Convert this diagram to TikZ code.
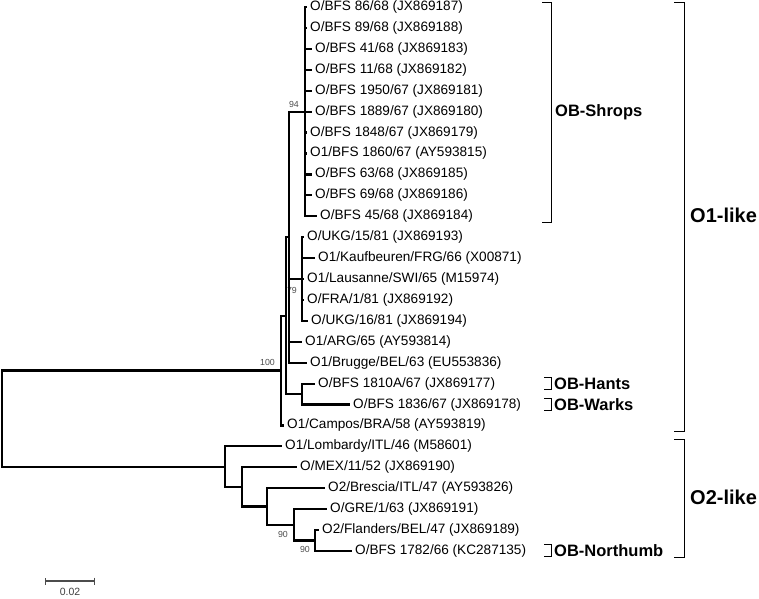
\documentclass[tikz,border=0pt]{standalone}
\usepackage{fontspec}
\setmainfont{Liberation Sans}
\usetikzlibrary{arrows.meta,positioning}
\tikzset{br/.style={line width=2.2pt},
  leaf/.style={inner sep=0pt, font=\fontsize{13.6}{15}\selectfont},
  boot/.style={inner sep=0pt, text=black!70, font=\fontsize{8.8}{9}\selectfont},
  brk/.style={line width=1pt},
  clade/.style={anchor=west, inner sep=0pt, font=\bfseries\fontsize{16.5}{18}\selectfont},
  grp/.style={anchor=west, inner sep=0pt, font=\bfseries\fontsize{20}{22}\selectfont},
  sbar/.style={{Bar[width=7pt]}-{Bar[width=7pt]}, line width=1.4pt, draw=black!70}}

\begin{document}
\begin{tikzpicture}[x=1pt, y=-1pt, node distance=3pt]
  \useasboundingbox (0,0) rectangle (759,598);
  % internal nodes
  \coordinate (root)  at (2,418.5);
  \coordinate (n100)  at (281,370.5);
  \coordinate (na)    at (286,315.6);
  \coordinate (nb)    at (289,237.1);
  \coordinate (n94)   at (305,111.6);
  \coordinate (n79)   at (302,279.0);
  \coordinate (hw)    at (302,394.0);
  \coordinate (no2)   at (225,466.6);
  \coordinate (nmex)  at (242,486.9);
  \coordinate (nbres) at (267,506.5);
  \coordinate (ngre)  at (294,524.8);
  \coordinate (nfl)   at (315,540.5);
  % leaves
  \coordinate (l0)  at (307,7.0);   \node[leaf, right=of l0]  (t0)  {O/BFS 86/68 (JX869187)};
  \coordinate (l1)  at (307,27.9);  \node[leaf, right=of l1]  (t1)  {O/BFS 89/68 (JX869188)};
  \coordinate (l2)  at (312,48.8);  \node[leaf, right=of l2]  (t2)  {O/BFS 41/68 (JX869183)};
  \coordinate (l3)  at (312,69.8);  \node[leaf, right=of l3]  (t3)  {O/BFS 11/68 (JX869182)};
  \coordinate (l4)  at (312,90.7);  \node[leaf, right=of l4]  (t4)  {O/BFS 1950/67 (JX869181)};
  \coordinate (l5)  at (312,111.6); \node[leaf, right=of l5]  (t5)  {O/BFS 1889/67 (JX869180)};
  \coordinate (l6)  at (307,132.5); \node[leaf, right=of l6]  (t6)  {O/BFS 1848/67 (JX869179)};
  \coordinate (l7)  at (307,153.4); \node[leaf, right=of l7]  (t7)  {O1/BFS 1860/67 (AY593815)};
  \coordinate (l8)  at (312,174.4); \node[leaf, right=of l8]  (t8)  {O/BFS 63/68 (JX869185)};
  \coordinate (l9)  at (312,195.3); \node[leaf, right=of l9]  (t9)  {O/BFS 69/68 (JX869186)};
  \coordinate (l10) at (317,216.2); \node[leaf, right=of l10] (t10) {O/BFS 45/68 (JX869184)};
  \coordinate (l11) at (304,237.1); \node[leaf, right=of l11] (t11) {O/UKG/15/81 (JX869193)};
  \coordinate (l12) at (315,258.0); \node[leaf, right=of l12] (t12) {O1/Kaufbeuren/FRG/66 (X00871)};
  \coordinate (l13) at (304,279.0); \node[leaf, right=of l13] (t13) {O1/Lausanne/SWI/65 (M15974)};
  \coordinate (l14) at (304,299.9); \node[leaf, right=of l14] (t14) {O/FRA/1/81 (JX869192)};
  \coordinate (l15) at (308,320.8); \node[leaf, right=of l15] (t15) {O/UKG/16/81 (JX869194)};
  \coordinate (l16) at (302,341.7); \node[leaf, right=of l16] (t16) {O1/ARG/65 (AY593814)};
  \coordinate (l17) at (307,362.6); \node[leaf, right=of l17] (t17) {O1/Brugge/BEL/63 (EU553836)};
  \coordinate (l18) at (315,383.6); \node[leaf, right=of l18] (t18) {O/BFS 1810A/67 (JX869177)};
  \coordinate (l19) at (350,404.5); \node[leaf, right=of l19] (t19) {O/BFS 1836/67 (JX869178)};
  \coordinate (l20) at (284,425.4); \node[leaf, right=of l20] (t20) {O1/Campos/BRA/58 (AY593819)};
  \coordinate (l21) at (282,446.3); \node[leaf, right=of l21] (t21) {O1/Lombardy/ITL/46 (M58601)};
  \coordinate (l22) at (297,467.2); \node[leaf, right=of l22] (t22) {O/MEX/11/52 (JX869190)};
  \coordinate (l23) at (325,488.2); \node[leaf, right=of l23] (t23) {O2/Brescia/ITL/47 (AY593826)};
  \coordinate (l24) at (327,509.1); \node[leaf, right=of l24] (t24) {O/GRE/1/63 (JX869191)};
  \coordinate (l25) at (319,530.0); \node[leaf, right=of l25] (t25) {O2/Flanders/BEL/47 (JX869189)};
  \coordinate (l26) at (352,550.9); \node[leaf, right=of l26] (t26) {O/BFS 1782/66 (KC287135)};
  % bootstrap values
  \node[boot, above left=4pt and 6pt of n94]   (b94)  {94};
  \node[boot, above left=4.5pt and 6pt of n100] (b100) {100};
  \node[boot, below left=8pt and 5pt of n79]   (b79)  {79};
  \node[boot, below left=6pt and 6pt of ngre]  (b90a) {90};
  \node[boot, below left=6pt and 5pt of nfl]   (b90b) {90};
  % branches
  \foreach \i in {0,...,10} \draw[br] (n94) |- (l\i);
  \foreach \i in {11,...,15} \draw[br] (n79) |- (l\i);
  \foreach \c in {n94,n79,l16,l17} \draw[br] (nb) |- (\c);
  \draw[br] (hw) |- (l18);
  \draw[br] (hw) |- (l19);
  \draw[br] (na) |- (nb);
  \draw[br] (na) |- (hw);
  \draw[br] (n100) |- (na);
  \draw[br] (n100) |- (l20);
  \draw[br] (root) |- (n100);
  \draw[br] (root) |- (no2);
  \draw[br] (no2) |- (l21);
  \draw[br] (no2) |- (nmex);
  \draw[br] (nmex) |- (l22);
  \draw[br] (nmex) |- (nbres);
  \draw[br] (nbres) |- (l23);
  \draw[br] (nbres) |- (ngre);
  \draw[br] (ngre) |- (l24);
  \draw[br] (ngre) |- (nfl);
  \draw[br] (nfl) |- (l25);
  \draw[br] (nfl) |- (l26);
  % clade brackets
  \draw[brk] (542,2) -| (551,222) -- (542,222);
  \node[clade] (shrops) at (555,112) {OB-Shrops};
  \draw[brk] (544,377.6) -| (551,389.6) -- (544,389.6);
  \node[clade] (hants) at (554,383.6) {OB-Hants};
  \draw[brk] (544,398.5) -| (551,410.5) -- (544,410.5);
  \node[clade] (warks) at (554,404.5) {OB-Warks};
  \draw[brk] (544,544.9) -| (551,556.9) -- (544,556.9);
  \node[clade] (nthumb) at (554,550.9) {OB-Northumb};
  \draw[brk] (674,2) -| (684,431) -- (674,431);
  \node[grp] (o1) at (690,215.5) {O1-like};
  \draw[brk] (674,439) -| (684,557) -- (674,557);
  \node[grp] (o2) at (690,497) {O2-like};
  % scale bar
  \coordinate (sb1) at (45,581);
  \coordinate (sb2) at (95,581);
  \draw[sbar] (sb1) -- (sb2);
  \node[inner sep=0pt, text=black!75, font=\fontsize{10.5}{12}\selectfont] (sbt) at (70,591.5) {0.02};
\end{tikzpicture}
\end{document}
